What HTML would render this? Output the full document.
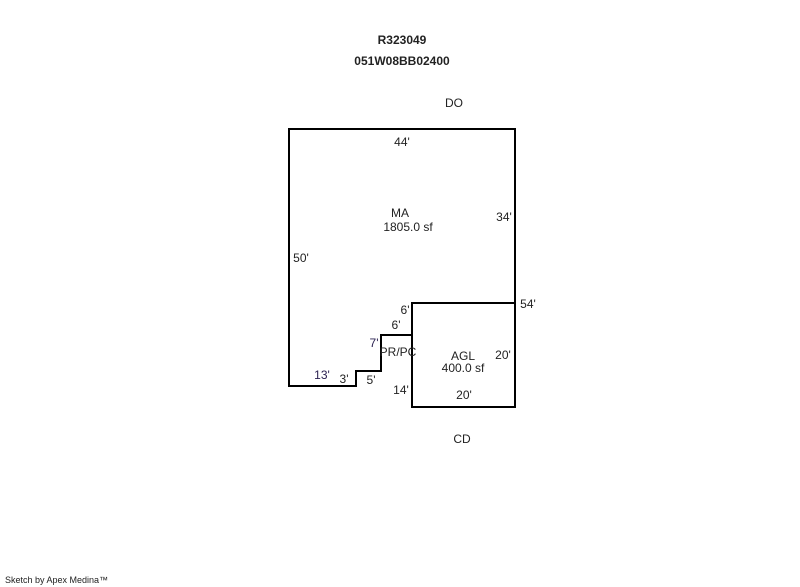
<!DOCTYPE html>
<html><head><meta charset="utf-8"><style>
html,body{margin:0;padding:0;background:#fff;}
svg{display:block;}
text{font-family:"Liberation Sans",Arial,sans-serif;font-size:12px;fill:#222;}
</style></head><body>
<svg width="800" height="587" viewBox="0 0 800 587" xmlns="http://www.w3.org/2000/svg">
<text x="402" y="44" text-anchor="middle" style="font-weight:bold" fill="#111">R323049</text>
<text x="402" y="65" text-anchor="middle" style="font-weight:bold" fill="#111">051W08BB02400</text>
<text x="454" y="107" text-anchor="middle">DO</text>
<text x="462" y="443" text-anchor="middle">CD</text>
<path d="M289,129 H515 V303 H412 V335 H381 V371 H356 V386 H289 Z" fill="none" stroke="#000" stroke-width="2"/>
<rect x="412" y="303" width="103" height="104" fill="none" stroke="#000" stroke-width="2"/>
<text x="402" y="146" text-anchor="middle">44'</text>
<text x="504" y="221" text-anchor="middle">34'</text>
<text x="301" y="262" text-anchor="middle">50'</text>
<text x="400" y="217" text-anchor="middle">MA</text>
<text x="408" y="231" text-anchor="middle">1805.0 sf</text>
<text x="528" y="308" text-anchor="middle">54'</text>
<text x="405" y="314" text-anchor="middle">6'</text>
<text x="396" y="329" text-anchor="middle">6'</text>
<text x="374" y="347" text-anchor="middle" style="fill:#2a2050">7'</text>
<text x="398" y="356" text-anchor="middle">PR/PC</text>
<text x="463" y="360" text-anchor="middle">AGL</text>
<text x="463" y="372" text-anchor="middle">400.0 sf</text>
<text x="503" y="359" text-anchor="middle">20'</text>
<text x="322" y="379" text-anchor="middle" style="fill:#2a2050">13'</text>
<text x="344" y="383" text-anchor="middle">3'</text>
<text x="371" y="384" text-anchor="middle">5'</text>
<text x="401" y="394" text-anchor="middle">14'</text>
<text x="464" y="399" text-anchor="middle">20'</text>
<text x="5" y="583" style="font-size:9px">Sketch by Apex Medina™</text>
</svg>
</body></html>
